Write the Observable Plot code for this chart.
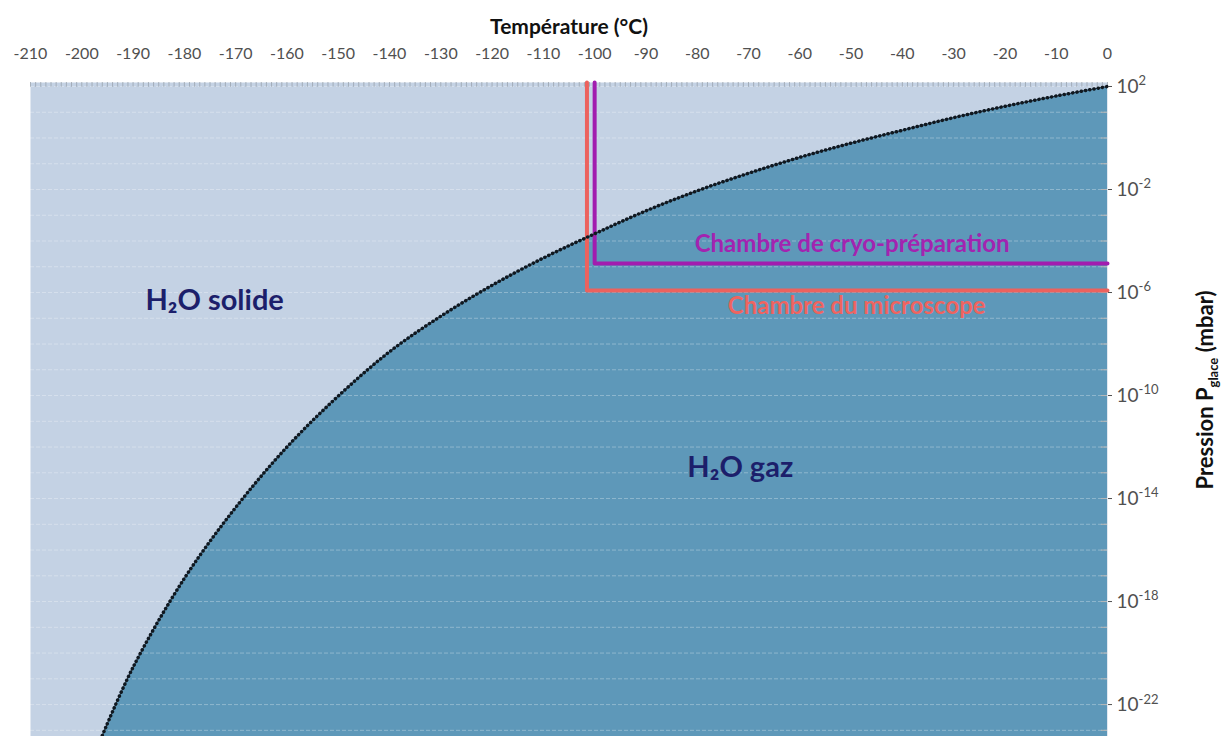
<!DOCTYPE html>
<html><head><meta charset="utf-8">
<script src="https://cdn.jsdelivr.net/npm/d3@7"></script>
<script src="https://cdn.jsdelivr.net/npm/@observablehq/plot@0.6"></script>
<style>body{margin:0;background:#fff;font-family:Lato,"Open Sans",sans-serif;}</style>
</head><body><div id="chart"></div>
<script>
// Sublimation curve of ice (T in °C, log10 of pressure in mbar)
const temps       = [-196, -190, -180, -170, -160, -150, -140, -130, -120, -110, -100, -90, -80, -70, -60, -50, -40, -30, -20, -10, 0];
const logPressure = [-23.2, -20.55, -17.1, -14.35, -12.0, -10.02, -8.3, -6.92, -5.72, -4.66, -3.72, -2.83, -2.05, -1.37, -0.75, -0.2, 0.3, 0.79, 1.23, 1.63, 2.0];

const xTicks = d3.range(-210, 1, 10);
const xMinorTicks = d3.range(-210, 1, 1);
const yTickExponents = [2, -2, -6, -10, -14, -18, -22];
const gridExponents = d3.range(-23, 3, 1);

// chamber limits: [temperature, log10 pressure]
const cryoLine  = [[-100, 2.155], [-100, -4.87], [0, -4.87]];
const microLine = [[-101.5, 2.155], [-101.5, -5.92], [0, -5.92]];

const regionLabels = [
  {T: -174.1, logP: -6.31, text: "H₂O solide", color: "#1c1f6b", size: 29},
  {T: -71.6,  logP: -12.8, text: "H₂O gaz",    color: "#1c1f6b", size: 29},
  {T: -49.8,  logP: -4.14, text: "Chambre de cryo-préparation", color: "#a324b0", size: 24},
  {T: -48.9,  logP: -6.54, text: "Chambre du microscope", color: "#ef6460", size: 24}
];

const yTop = Math.pow(10, 2.155), yBottom = Math.pow(10, -23.24);
const curve = temps.map((T, i) => ({T, P: Math.pow(10, logPressure[i])}));
const pt = ([T, l]) => ({T, P: Math.pow(10, l)});

const plot = Plot.plot({
  width: 1228, height: 736,
  marginLeft: 30, marginRight: 121, marginTop: 82, marginBottom: 0,
  style: {fontFamily: "Lato, 'Open Sans', sans-serif", background: "#fff"},
  x: {domain: [-210, 0], label: null},
  y: {type: "log", domain: [yBottom, yTop], label: null},
  marks: [
    Plot.frame({fill: "#c4d2e4", stroke: null}),
    Plot.areaY(curve, {x: "T", y1: yBottom, y2: "P", fill: "#5e98b9", curve: "catmull-rom"}),
    Plot.ruleY(gridExponents.map(e => Math.pow(10, e)), {stroke: "#ffffff", strokeOpacity: 0.3, strokeDasharray: "4,2"}),
    Plot.ruleX(xMinorTicks, {y1: yTop, y2: Math.pow(10, 1.97), stroke: "#9aa3ad", strokeWidth: 0.8}),
    Plot.ruleY(gridExponents.map(e => Math.pow(10, e)), {x1: -1.2, x2: 0, stroke: "#b8b8b8"}),
    Plot.line(microLine.map(pt), {x: "T", y: "P", stroke: "#ec625e", strokeWidth: 4}),
    Plot.line(cryoLine.map(pt), {x: "T", y: "P", stroke: "#a21caf", strokeWidth: 4}),
    Plot.line(curve, {x: "T", y: "P", stroke: "#2a3440", strokeWidth: 1, curve: "catmull-rom"}),
    Plot.line(curve, {x: "T", y: "P", stroke: "#101820", strokeWidth: 3.5, strokeLinecap: "round", strokeDasharray: "0.1,4.2", curve: "catmull-rom"}),
    Plot.text(regionLabels, {x: "T", y: d => Math.pow(10, d.logP), text: "text", fill: "color", fontSize: "size", fontWeight: "bold"}),
    Plot.axisX({anchor: "top", ticks: xTicks, tickFormat: d => String(d), tickSize: 0, tickPadding: 24, fontSize: 16, color: "#505050", label: null}),
    Plot.axisY({anchor: "right", ticks: yTickExponents.map(e => Math.pow(10, e)), tickFormat: d => "10|" + Math.round(Math.log10(d)), tickSize: 4, tickPadding: 5, fontSize: 19, color: "#505050", label: null}),
    Plot.text(["Température (°C)"], {frameAnchor: "top", dy: -63, fontSize: 21, fontWeight: "bold", fill: "#111"})
  ]
});

// superscript exponents on the pressure axis
d3.select(plot).selectAll('g[aria-label="y-axis tick label"] text').each(function() {
  const [base, exp] = this.textContent.split("|");
  const t = d3.select(this);
  t.text(null);
  t.append("tspan").text(base);
  t.append("tspan").attr("dy", "-0.55em").attr("font-size", 13).text(exp);
});

// rotated axis title with subscript
const title = d3.select(plot).append("text")
  .attr("transform", "translate(1213,390) rotate(-90)")
  .attr("text-anchor", "middle")
  .attr("font-family", "Lato, 'Open Sans', sans-serif")
  .attr("font-weight", "bold").attr("font-size", 22).attr("fill", "#111");
title.append("tspan").text("Pression P");
title.append("tspan").attr("dy", 5).attr("font-size", 13).text("glace");
title.append("tspan").attr("dy", -5).text(" (mbar)");

document.getElementById("chart").append(plot);
</script>
</body></html>
